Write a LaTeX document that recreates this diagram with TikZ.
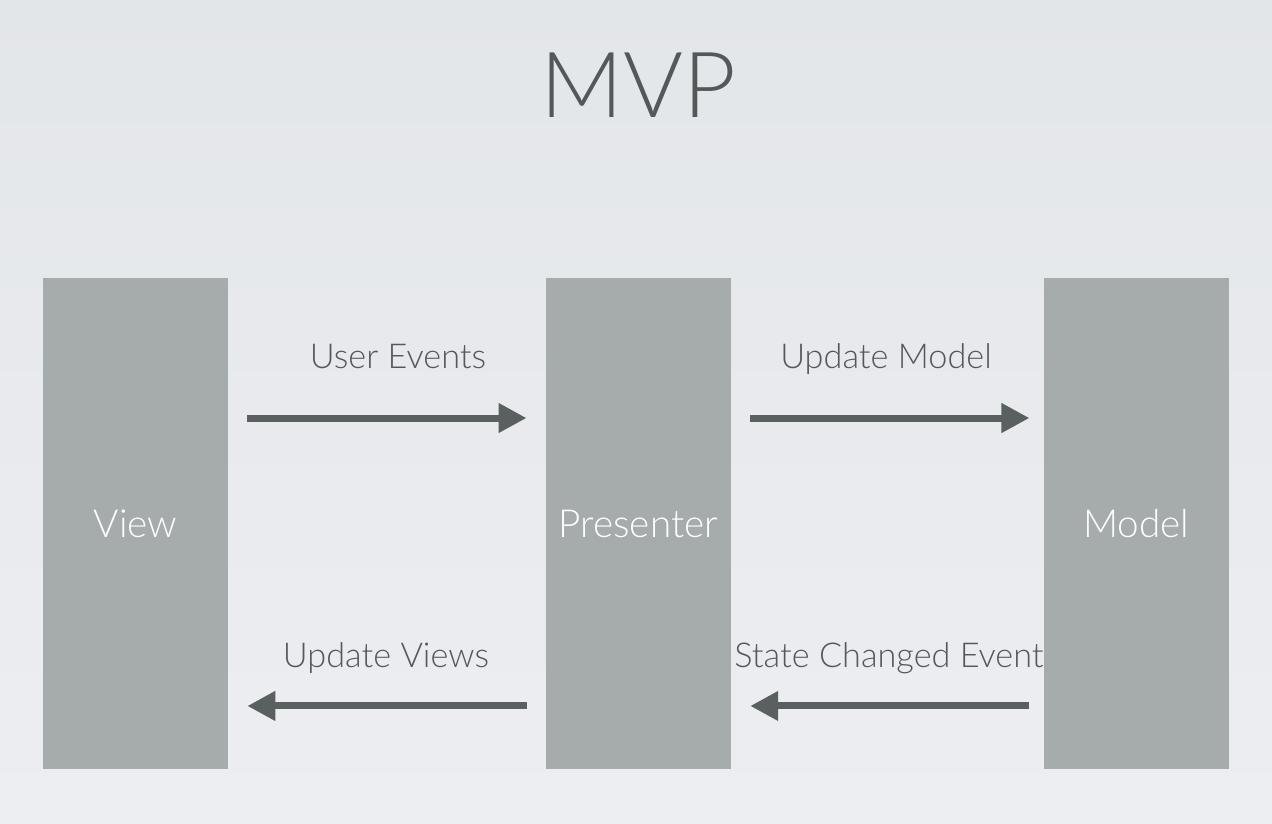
\documentclass[tikz,border=0pt]{standalone}
\usepackage{fontspec}
\setmainfont{Lato}[UprightFont=* Light]
\usetikzlibrary{arrows.meta}
\usetikzlibrary{positioning}

\definecolor{slidetop}{HTML}{E3E6E9}
\definecolor{slidebot}{HTML}{EDEEF1}
\definecolor{boxgray}{HTML}{A6ABAB}
\definecolor{arrowgray}{HTML}{5A5F5F}
\definecolor{textgray}{HTML}{555859}

\begin{document}
\begin{tikzpicture}[x=0.02cm,y=-0.02cm,on grid,
    layer/.style={fill=boxgray,minimum width=3.7cm,minimum height=9.82cm,
        inner sep=0pt,text=white,font=\fontsize{22}{26}\selectfont},
    flow/.style={line width=4pt,draw=arrowgray,
        -{Triangle[length=0.56cm,width=0.56cm]}},
    lbl/.style={text=textgray,anchor=base,font=\fontsize{19.5}{24}\selectfont}]
    \shade[top color=slidetop, bottom color=slidebot] (0,0) rectangle (1272,824);
    \node[text=textgray,anchor=base,font=\fontsize{52}{60}\selectfont] (title) at (638,118) {MVP};
    % the three layers
    \node[layer] (view) at (135.5,523.5) {View};
    \node[layer,right=10.06cm of view] (presenter) {Presenter};
    \node[layer,right=9.96cm of presenter] (model) {Model};
    % top row
    \draw[flow] ([xshift=.38cm,yshift=2.11cm]view.east) -- ([xshift=-.38cm,yshift=2.11cm]presenter.west);
    \draw[flow] ([xshift=.38cm,yshift=2.11cm]presenter.east) -- ([xshift=-.28cm,yshift=2.11cm]model.west);
    % bottom row
    \draw[flow] ([xshift=-.38cm,yshift=-3.65cm]presenter.west) -- ([xshift=.38cm,yshift=-3.65cm]view.east);
    \draw[flow] ([xshift=-.28cm,yshift=-3.65cm]model.west) -- ([xshift=.38cm,yshift=-3.65cm]presenter.east);
    \node[lbl] (userev) at (398,369) {User Events};
    \node[lbl] (updmodel) at (886,369) {Update Model};
    \node[lbl] (updviews) at (386,667) {Update Views};
    \node[lbl] (statechg) at (889,667) {State Changed Event};
\end{tikzpicture}
\end{document}
